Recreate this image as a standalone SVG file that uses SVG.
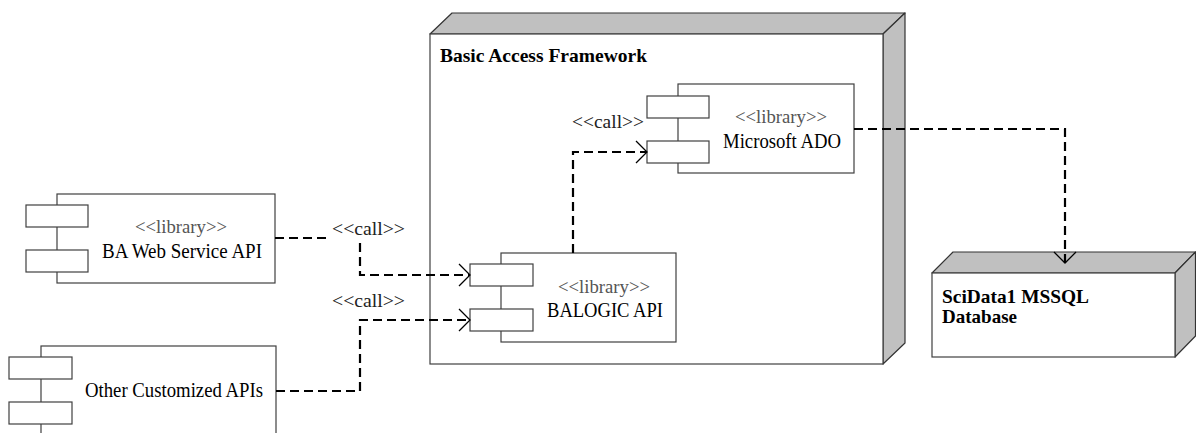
<svg xmlns="http://www.w3.org/2000/svg" width="1196" height="433" viewBox="0 0 1196 433">
<style>
.box{fill:#fff;stroke:#404040;stroke-width:1.2}
.shade{fill:#c0c0c0;stroke:#333;stroke-width:1.2;stroke-linejoin:round}
.port{fill:#fff;stroke:#404040;stroke-width:1.2}
.conn{fill:none;stroke:#000;stroke-width:2.2;stroke-dasharray:9,5}
.title{font-family:"Liberation Serif","Times New Roman",serif;font-weight:bold;font-size:19.5px;fill:#000}
.name{font-family:"Liberation Serif","Times New Roman",serif;font-size:22px;fill:#000;text-anchor:middle}
.stereo{font-family:"Liberation Serif","Times New Roman",serif;font-size:18px;fill:#555;text-anchor:middle}
.call{font-family:"Liberation Serif","Times New Roman",serif;font-size:18px;fill:#222}
</style>
<defs>
<marker id="open" markerUnits="userSpaceOnUse" markerWidth="14" markerHeight="24" viewBox="0 0 14 24" refX="12" refY="12" orient="auto">
<path d="M1,1 L12,12 L1,23" fill="none" stroke="#000" stroke-width="1.3" stroke-dasharray="none"/>
</marker>
</defs>

<g id="framework">
<polygon class="shade" points="430,34 452,13 905,13 883,34"/>
<polygon class="shade" points="883,34 905,13 905,343 883,364"/>
<rect class="box" x="430" y="34" width="453" height="330"/>
<text class="title" x="440" y="62" textLength="207" lengthAdjust="spacingAndGlyphs">Basic Access Framework</text>
</g>

<g id="ado">
<rect class="box" x="678" y="84" width="176" height="89"/>
<rect class="port" x="647" y="96" width="62" height="22"/>
<rect class="port" x="647" y="141" width="62" height="22"/>
<text class="stereo" x="781" y="123" textLength="92" lengthAdjust="spacingAndGlyphs">&lt;&lt;library&gt;&gt;</text>
<text class="name" x="782" y="148" textLength="118" lengthAdjust="spacingAndGlyphs">Microsoft ADO</text>
</g>

<g id="balogic">
<rect class="box" x="501" y="253" width="175" height="89"/>
<rect class="port" x="470" y="264" width="63" height="22"/>
<rect class="port" x="470" y="309" width="63" height="22"/>
<text class="stereo" x="604" y="293" textLength="92" lengthAdjust="spacingAndGlyphs">&lt;&lt;library&gt;&gt;</text>
<text class="name" x="605" y="317" textLength="116" lengthAdjust="spacingAndGlyphs">BALOGIC API</text>
</g>

<g id="bawebservice">
<rect class="box" x="57" y="194" width="218" height="89"/>
<rect class="port" x="26" y="205" width="62" height="22"/>
<rect class="port" x="26" y="250" width="62" height="22"/>
<text class="stereo" x="181" y="233" textLength="92" lengthAdjust="spacingAndGlyphs">&lt;&lt;library&gt;&gt;</text>
<text class="name" x="182" y="258" textLength="160" lengthAdjust="spacingAndGlyphs">BA Web Service API</text>
</g>

<g id="othercustomized">
<rect class="box" x="41" y="346" width="235" height="100"/>
<rect class="port" x="9" y="357" width="63" height="22"/>
<rect class="port" x="9" y="402" width="63" height="22"/>
<text class="name" x="174" y="397" textLength="178" lengthAdjust="spacingAndGlyphs">Other Customized APIs</text>
</g>

<g id="database">
<polygon class="shade" points="932,273 953,252 1195.5,252 1175,273"/>
<polygon class="shade" points="1175,273 1195.5,252 1195.5,336 1175,357"/>
<rect class="box" x="932" y="273" width="243" height="84"/>
<text class="title" x="942" y="303" textLength="147" lengthAdjust="spacingAndGlyphs">SciData1 MSSQL</text>
<text class="title" x="942" y="323" textLength="75" lengthAdjust="spacingAndGlyphs">Database</text>
</g>

<g id="connectors">
<path class="conn" d="M275,238 H328 M360,243 V275 H470" marker-end="url(#open)"/>
<text class="call" x="332" y="235" textLength="73" lengthAdjust="spacingAndGlyphs">&lt;&lt;call&gt;&gt;</text>
<path class="conn" d="M276,391 H360 V320 H470" marker-end="url(#open)"/>
<text class="call" x="332" y="307" textLength="73" lengthAdjust="spacingAndGlyphs">&lt;&lt;call&gt;&gt;</text>
<path class="conn" d="M573,253 V152 H647" marker-end="url(#open)"/>
<text class="call" x="572" y="128" textLength="72" lengthAdjust="spacingAndGlyphs">&lt;&lt;call&gt;&gt;</text>
<path class="conn" d="M854,129 H1065 V263" marker-end="url(#open)"/>
</g>
</svg>
